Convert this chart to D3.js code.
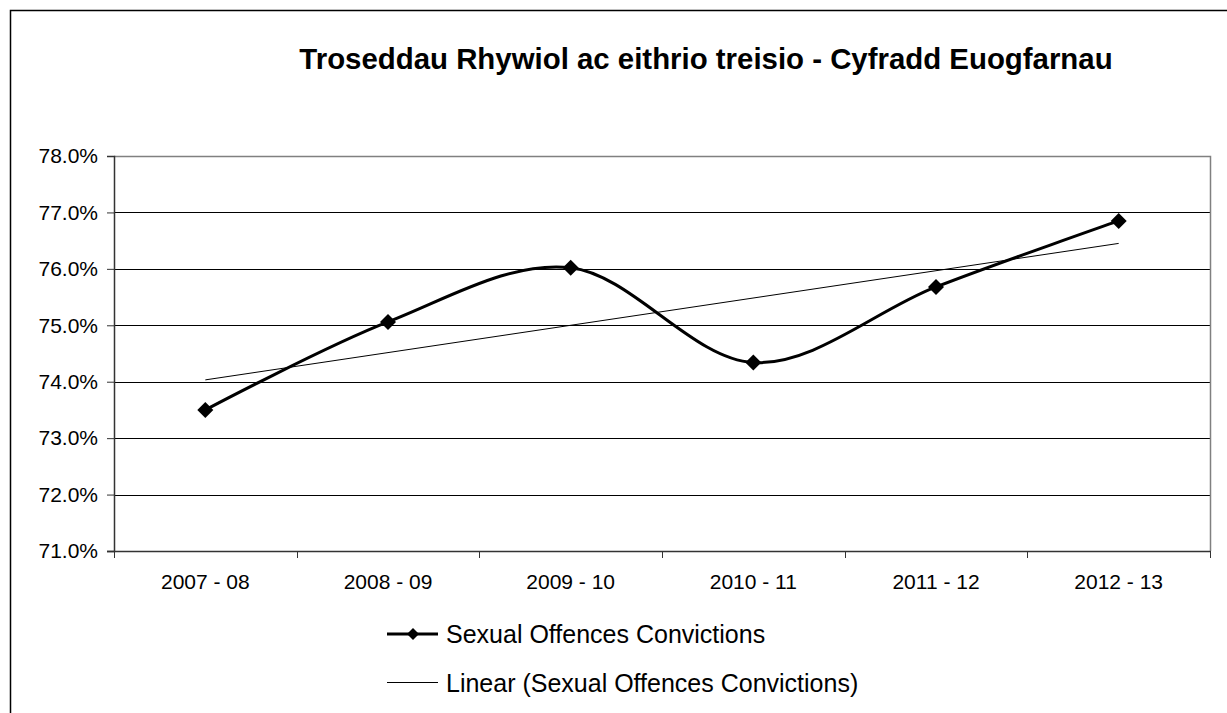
<!DOCTYPE html>
<html>
<head>
<meta charset="utf-8">
<script src="https://cdn.jsdelivr.net/npm/d3@7"></script>
<style>
  html, body { margin: 0; padding: 0; background: #fff; }
  svg { display: block; }
  text { font-family: "Liberation Sans", Arial, sans-serif; fill: #000; }
</style>
</head>
<body>
<svg id="chart" width="1227" height="713"></svg>
<script>
const categories = ["2007 - 08", "2008 - 09", "2009 - 10", "2010 - 11", "2011 - 12", "2012 - 13"];
const convictions = [73.50, 75.06, 76.02, 74.34, 75.68, 76.85];
const yTicks = [71, 72, 73, 74, 75, 76, 77, 78];
const titleText = "Troseddau Rhywiol ac eithrio treisio - Cyfradd Euogfarnau";
const seriesName = "Sexual Offences Convictions";
const trendName = "Linear (Sexual Offences Convictions)";

const svg = d3.select("#chart");
const W = 1227, H = 713;
const plot = { left: 114, top: 156, right: 1210, bottom: 551 };

// outer chart border
svg.append("rect").attr("x", 10.5).attr("y", 10.5)
  .attr("width", W + 20).attr("height", H + 20)
  .attr("fill", "#fff").attr("stroke", "#000").attr("stroke-width", 1.5);

// title
svg.append("text").attr("x", 706).attr("y", 69)
  .attr("text-anchor", "middle").attr("font-size", 29.4).attr("font-weight", "bold")
  .text(titleText);

const x = d3.scaleBand().domain(categories).range([plot.left, plot.right]).padding(0);
const y = d3.scaleLinear().domain([71, 78]).range([plot.bottom, plot.top]);

// gridlines
svg.append("g").selectAll("line").data(yTicks.filter(t => t > 71 && t < 78)).join("line")
  .attr("x1", plot.left).attr("x2", plot.right)
  .attr("y1", d => Math.round(y(d)) + 0.5).attr("y2", d => Math.round(y(d)) + 0.5)
  .attr("stroke", "#000").attr("stroke-width", 1);

// plot border top/right gray
svg.append("path")
  .attr("d", `M${plot.left},${plot.top + 0.5}H${plot.right + 0.5}V${plot.bottom}`)
  .attr("fill", "none").attr("stroke", "#808080").attr("stroke-width", 1.5);

// y axis
const yAxis = d3.axisLeft(y).tickValues(yTicks).tickSize(7).tickPadding(9)
  .tickFormat(d => d3.format(".1f")(d) + "%");
const gy = svg.append("g").attr("transform", `translate(${plot.left},0)`).call(yAxis);
gy.select(".domain").attr("stroke", "#333").attr("stroke-width", 1.5);
gy.selectAll(".tick line").attr("stroke", "#333");
gy.selectAll(".tick text").attr("font-size", 21).attr("font-family", "Liberation Sans, Arial, sans-serif")
  .attr("fill", "#000");

// x axis with ticks at band boundaries
const gx = svg.append("g").attr("transform", `translate(0,${plot.bottom})`);
gx.append("line").attr("x1", plot.left - 7).attr("x2", plot.right + 0.5)
  .attr("y1", 0.5).attr("y2", 0.5).attr("stroke", "#333").attr("stroke-width", 1.5);
const bounds = categories.map(c => x(c)).concat([x(categories[categories.length - 1]) + x.bandwidth()]);
gx.selectAll("line.tk").data(bounds).join("line").attr("class", "tk")
  .attr("x1", d => Math.round(d) + 0.5).attr("x2", d => Math.round(d) + 0.5)
  .attr("y1", 0).attr("y2", 7).attr("stroke", "#333");
gx.selectAll("text").data(categories).join("text")
  .attr("x", d => x(d) + x.bandwidth() / 2).attr("y", 38)
  .attr("text-anchor", "middle").attr("font-size", 21).text(d => d);

// data points
const pts = categories.map((c, i) => [x(c) + x.bandwidth() / 2, y(convictions[i])]);

// linear trend (least squares)
const n = convictions.length;
const xs = d3.range(1, n + 1);
const mx = d3.mean(xs), my = d3.mean(convictions);
const slope = d3.sum(xs, (xi, i) => (xi - mx) * (convictions[i] - my)) / d3.sum(xs, xi => (xi - mx) ** 2);
const intercept = my - slope * mx;
const trend = [[pts[0][0], y(intercept + slope * 1)], [pts[n - 1][0], y(intercept + slope * n)]];
svg.append("path").attr("d", d3.line()(trend))
  .attr("fill", "none").attr("stroke", "#000").attr("stroke-width", 1);

// smoothed series line
svg.append("path").attr("d", d3.line().curve(d3.curveCardinal.tension(0))(pts))
  .attr("fill", "none").attr("stroke", "#000").attr("stroke-width", 3);

// diamond markers
const diamond = (cx, cy, r) => `M${cx},${cy - r}L${cx + r},${cy}L${cx},${cy + r}L${cx - r},${cy}Z`;
svg.append("g").selectAll("path").data(pts).join("path")
  .attr("d", d => diamond(d[0], d[1], 8)).attr("fill", "#000");

// legend
const lg = svg.append("g");
lg.append("line").attr("x1", 387).attr("x2", 438).attr("y1", 634).attr("y2", 634)
  .attr("stroke", "#000").attr("stroke-width", 3);
lg.append("path").attr("d", diamond(413, 634, 6)).attr("fill", "#000");
lg.append("text").attr("x", 446).attr("y", 643).attr("font-size", 25).text(seriesName);
lg.append("line").attr("x1", 387).attr("x2", 438).attr("y1", 682.5).attr("y2", 682.5)
  .attr("stroke", "#000").attr("stroke-width", 1);
lg.append("text").attr("x", 446).attr("y", 692).attr("font-size", 25).text(trendName);
</script>
</body>
</html>
